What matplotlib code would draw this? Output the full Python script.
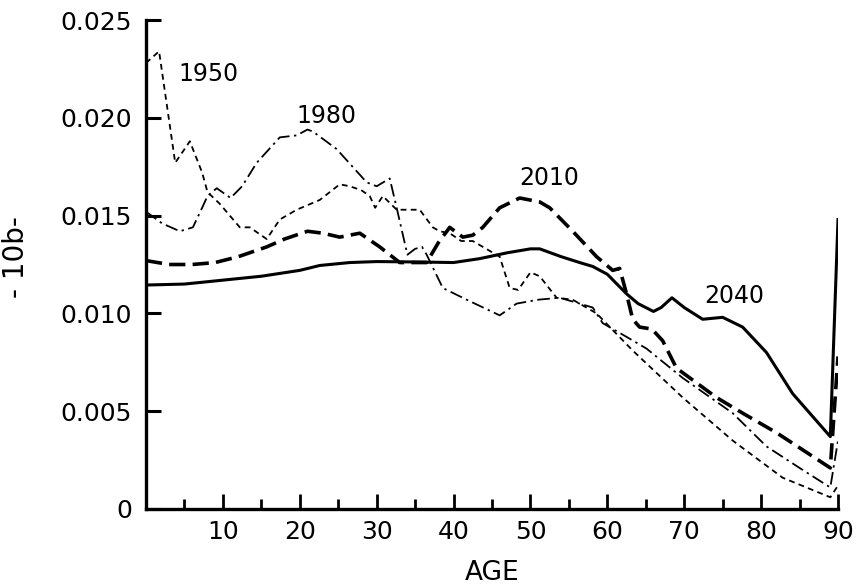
"""-10b by age for four census years (1950, 1980, 2010, 2040)."""

import matplotlib

matplotlib.use("Agg")
import matplotlib.pyplot as plt
from matplotlib.ticker import MultipleLocator

# --- data --------------------------------------------------------------
age_1950 = [0, 1.7, 3.8, 5.7, 7.3, 8, 9.6, 12.2, 13.5, 15.7, 17.4, 19.6, 22.6,
            25.2, 26.5, 28, 29.1, 29.8, 30.8, 32.6, 34.3, 35.6, 37.3, 38.2,
            39.5, 41, 42.5, 46, 47.3, 48.4, 50, 51.2, 53.4, 55.5, 58.6, 63.3,
            69.8, 76.3, 82.8, 89, 90]
val_1950 = [0.0228, 0.0234, 0.0177, 0.0188, 0.0172, 0.0162, 0.0156, 0.0144,
            0.0144, 0.0138, 0.0148, 0.0153, 0.0158, 0.0166, 0.0165, 0.0163,
            0.0160, 0.0154, 0.0160, 0.0153, 0.0153, 0.0153, 0.0144, 0.0142,
            0.0141, 0.0137, 0.0137, 0.0129, 0.0113, 0.0112, 0.0121, 0.0119,
            0.0108, 0.0107, 0.0100, 0.0081, 0.0057, 0.0035, 0.0016, 0.0006,
            0.0012]

age_1980 = [0, 2.1, 4.4, 6.1, 7.3, 8, 9.2, 11, 12.5, 14.4, 17.4, 19.6, 21,
            21.7, 24.8, 28.7, 30, 31.7, 32.6, 34, 35, 35.9, 36.5, 38.6, 41.7,
            46, 48.2, 51, 53.8, 56.4, 58.1, 59.4, 62.5, 65.1, 69.8, 76.3, 80.7,
            85, 89, 90]
val_1980 = [0.0152, 0.0146, 0.0142, 0.0144, 0.0154, 0.0160, 0.0164, 0.0159,
            0.0165, 0.0177, 0.0190, 0.0191, 0.0194, 0.0193, 0.0184, 0.0167,
            0.0165, 0.0169, 0.0154, 0.0130, 0.0133, 0.0134, 0.0130, 0.0113,
            0.0107, 0.0099, 0.0105, 0.0107, 0.0108, 0.0105, 0.0103, 0.0095,
            0.0088, 0.0082, 0.0067, 0.0049, 0.0032, 0.0021, 0.0011, 0.0035]

age_2010 = [0, 3, 6, 9, 12, 15.7, 18, 21, 23, 25.2, 26.5, 27.8, 30.4, 33,
            36.5, 38, 39.5, 41.2, 42.5, 43.8, 46, 48.6, 51.2, 52.5, 55.5, 58.6,
            60.7, 61.6, 62.5, 63.3, 64.2, 65.8, 67.2, 69, 74.2, 77.6, 82, 89,
            90]
val_2010 = [0.0127, 0.0125, 0.0125, 0.0126, 0.0129, 0.0134, 0.0138, 0.0142,
            0.0141, 0.0139, 0.0140, 0.0141, 0.0134, 0.0126, 0.0126, 0.0136,
            0.0144, 0.0139, 0.0140, 0.0144, 0.0154, 0.0159, 0.0157, 0.0154,
            0.0142, 0.0129, 0.0122, 0.0123, 0.0110, 0.0097, 0.0093, 0.0092,
            0.0086, 0.0072, 0.0057, 0.0049, 0.0039, 0.0021, 0.0078]

age_2040 = [0, 5, 10, 15, 20, 22.6, 26.5, 30, 35, 40, 43.4, 47, 50, 51.2, 54,
            56.4, 58.1, 60, 62.5, 64, 66, 67, 68.4, 70, 72.4, 75, 77.6, 80.7,
            84.1, 89, 90]
val_2040 = [0.01145, 0.0115, 0.0117, 0.0119, 0.0122, 0.01245, 0.0126, 0.01265,
            0.01263, 0.0126, 0.0128, 0.0131, 0.0133, 0.0133, 0.0129, 0.0126,
            0.0124, 0.0120, 0.0110, 0.0105, 0.0101, 0.0103, 0.0108, 0.0103,
            0.0097, 0.0098, 0.0093, 0.0080, 0.0059, 0.0037, 0.0148]

year_labels = ["1950", "1980", "2010", "2040"]
label_xy = [(8.1, 0.02224), (23.5, 0.0201), (52.5, 0.01692), (76.5, 0.01089)]

y_ticks = [0, 0.005, 0.010, 0.015, 0.020, 0.025]
y_tick_labels = ["0", "0.005", "0.010", "0.015", "0.020", "0.025"]
x_ticks = [10, 20, 30, 40, 50, 60, 70, 80, 90]

# --- figure ------------------------------------------------------------
fig = plt.figure(figsize=(8.61, 5.86), dpi=100)
ax = fig.add_axes([146 / 861, 1 - 509 / 586, 692 / 861, 489 / 586])

ink = "black"
ax.plot(age_1950, val_1950, color=ink, lw=1.3, dashes=(3.2, 2.4))
ax.plot(age_1980, val_1980, color=ink, lw=1.3, dashes=(7, 2.5, 1.3, 2.5))
ax.plot(age_2010, val_2010, color=ink, lw=2.6, dashes=(4.5, 2.0))
ax.plot(age_2040, val_2040, color=ink, lw=2.2)

for txt, (x, y) in zip(year_labels, label_xy):
    ax.text(x, y, txt, ha="center", va="center", fontsize=17, color=ink)

ax.set_xlim(0, 90)
ax.set_ylim(0, 0.025)

for side in ("top", "right"):
    ax.spines[side].set_visible(False)
for side in ("left", "bottom"):
    ax.spines[side].set_linewidth(2.4)

ax.set_yticks(y_ticks)
ax.set_yticklabels(y_tick_labels)
ax.set_xticks(x_ticks)
ax.xaxis.set_minor_locator(MultipleLocator(5))

ax.tick_params(axis="y", direction="in", length=11, width=2.2, pad=10,
               labelsize=18)
ax.tick_params(axis="x", which="major", direction="in", length=11, width=2.0,
               pad=8, labelsize=18)
ax.tick_params(axis="x", which="minor", direction="in", length=7, width=2.0)

ax.set_xlabel("AGE", fontsize=19)
ax.xaxis.set_label_coords(0.5, -0.104)
ax.set_ylabel("- 10b-", fontsize=20)
ax.yaxis.set_label_coords(-0.168, 0.515)

fig.savefig("out.png", dpi=100)
plt.close(fig)
